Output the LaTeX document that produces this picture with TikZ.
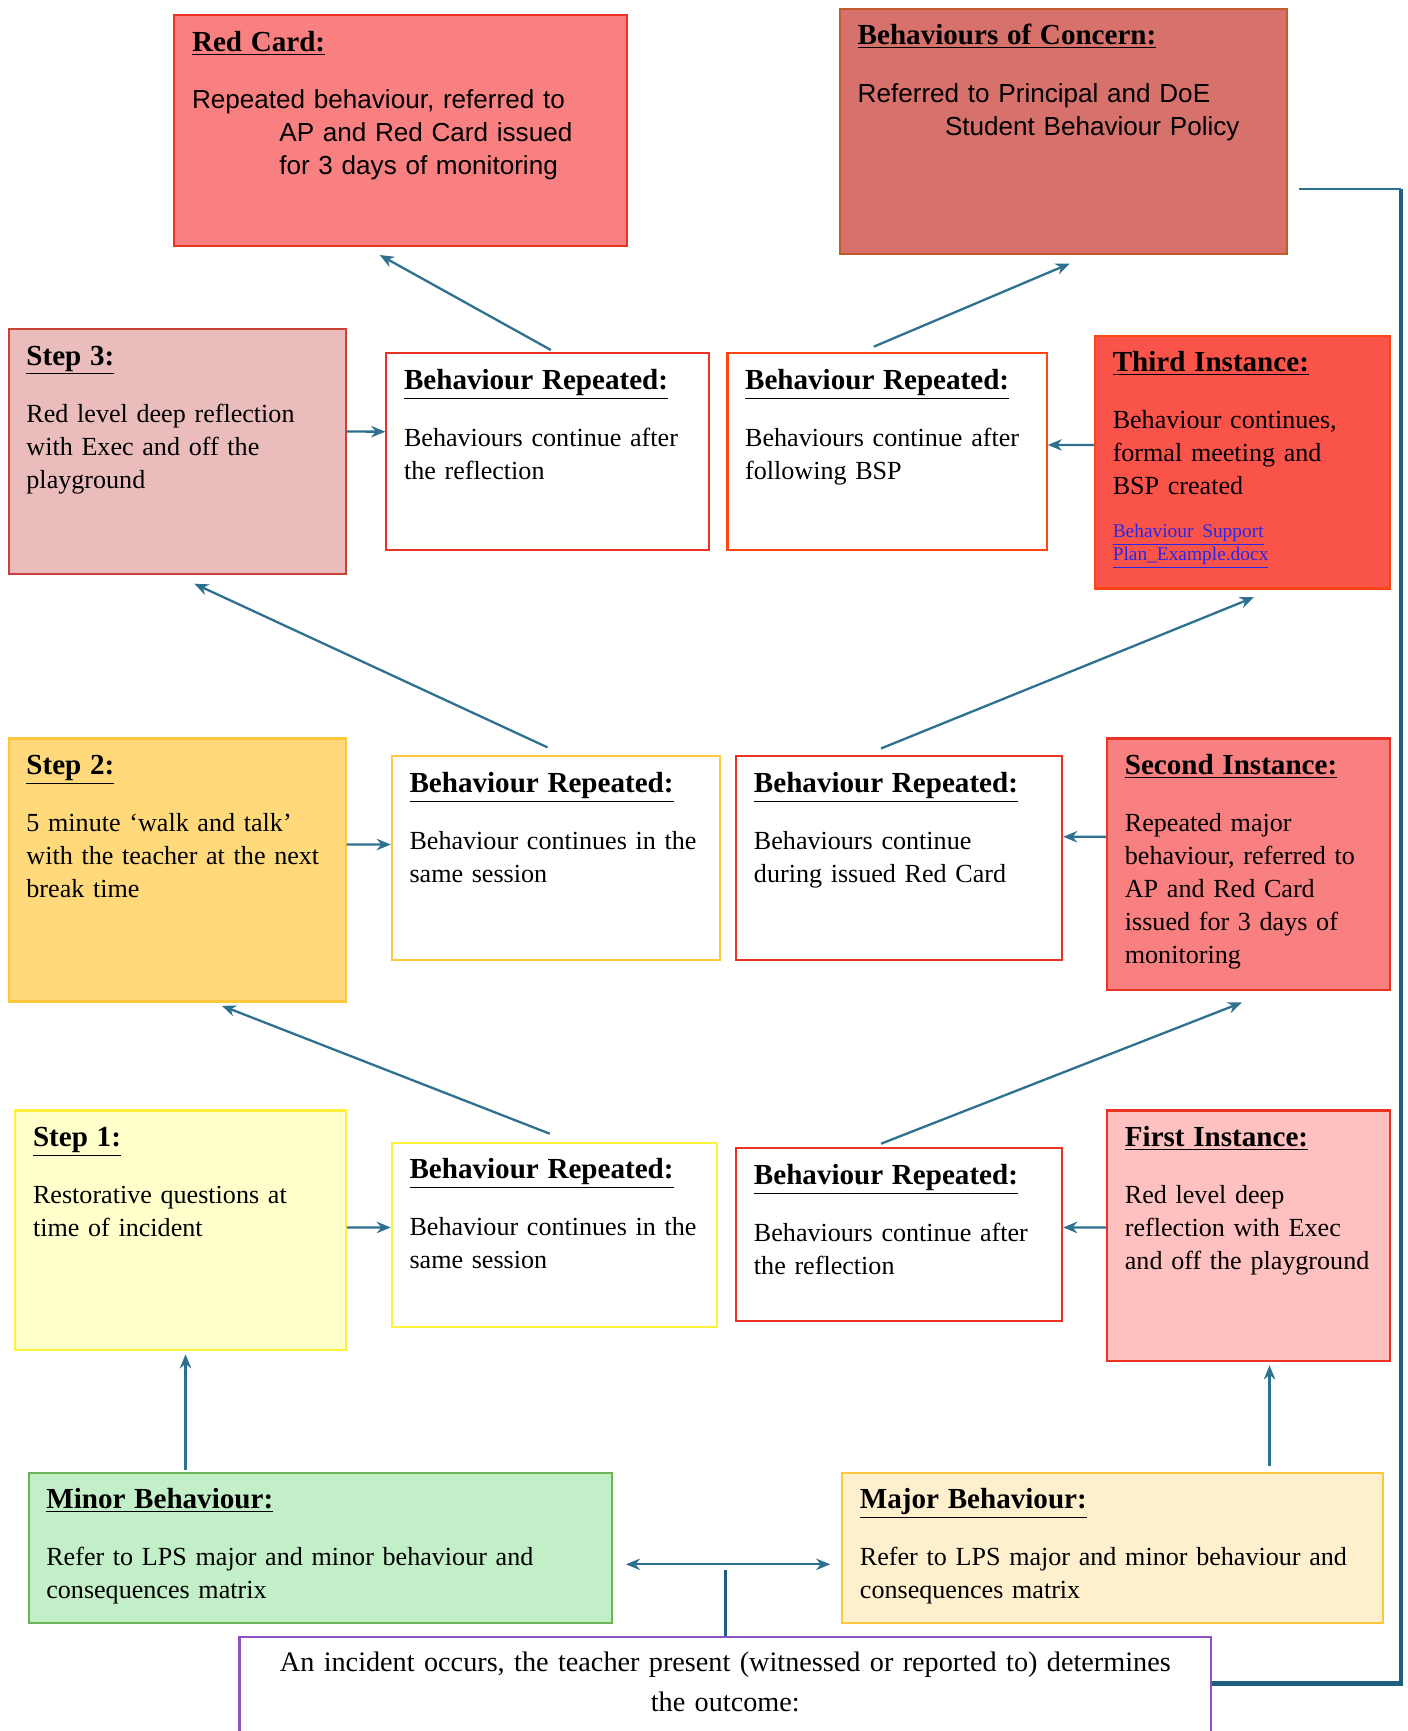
\documentclass[tikz,border=0pt]{standalone}
\usepackage{fontspec}
\setmainfont{Liberation Serif}
\setsansfont{Liberation Sans}
\usetikzlibrary{shapes.geometric, arrows, arrows.meta, calc}

\definecolor{redcardfill}{RGB}{248,128,128}
\definecolor{redline}{RGB}{234,51,35}
\definecolor{concernfill}{RGB}{215,113,108}
\definecolor{concernline}{RGB}{196,89,44}
\definecolor{stepthreefill}{RGB}{234,188,188}
\definecolor{stepthreeline}{RGB}{204,65,55}
\definecolor{thirdfill}{RGB}{250,83,74}
\definecolor{orangeline}{RGB}{255,69,20}
\definecolor{steptwofill}{RGB}{255,217,122}
\definecolor{ambline}{RGB}{255,200,60}
\definecolor{steponefill}{RGB}{255,255,204}
\definecolor{yellowline}{RGB}{255,242,60}
\definecolor{firstfill}{RGB}{255,192,192}
\definecolor{minorfill}{RGB}{194,239,200}
\definecolor{greenline}{RGB}{106,180,90}
\definecolor{majorfill}{RGB}{255,240,205}
\definecolor{purpleline}{RGB}{142,82,196}
\definecolor{flowblue}{RGB}{46,112,143}
\definecolor{flowdark}{RGB}{30,95,128}
\definecolor{linkblue}{RGB}{40,40,230}

\newcommand{\cardtitle}[1]{\rightskip=0pt plus 1fil minus 1cm\relax{\fontsize{16.5}{18.7}\selectfont\bfseries\underline{#1}}\\[13.7pt]}
\newcommand{\doclink}[1]{{\fontsize{11}{13}\selectfont\color{linkblue}\underline{#1}}}

\tikzstyle{card} = [rectangle, anchor=north west, draw, line width=1.2pt, align=left,
inner xsep=0.352cm, inner ysep=0pt, text height=20.5pt,
font=\fontsize{14.8}{18.7}\selectfont]
\tikzstyle{arrow} = [draw=flowblue, line width=1.3pt, -{Stealth[length=8pt, width=6.5pt]}]
\tikzstyle{feedback} = [draw=flowdark, line width=2.6pt]

\begin{document}
\begin{tikzpicture}[x=0.022cm, y=-0.022cm]
\useasboundingbox (0,0) rectangle (1275,1568);

% top row
\node (redcard) [card, fill=redcardfill, draw=redline, text width=8.32cm, text depth=3.88cm] at (157,13) {\cardtitle{Red Card:}\sffamily Repeated behaviour, referred to\\\hspace*{1.74cm}AP and Red Card issued\\\hspace*{1.74cm}for 3 days of monitoring};
\node (concern) [card, fill=concernfill, draw=concernline, text width=8.21cm, text depth=4.16cm] at (760,7) {\cardtitle{Behaviours of Concern:}\sffamily Referred to Principal and DoE\\\hspace*{1.74cm}Student Behaviour Policy};

% step 3 row
\node (step3) [card, fill=stepthreefill, draw=stepthreeline, text width=6.01cm, text depth=4.16cm] at (7,297) {\cardtitle{Step 3:}Red level deep reflection\\with Exec and off the\\playground};
\node (repA3) [card, fill=white, draw=redline, text width=5.72cm, text depth=3.20cm] at (349,319) {\cardtitle{Behaviour Repeated:}Behaviours continue after\\the reflection};
\node (repB3) [card, fill=white, draw=orangeline, text width=5.66cm, text depth=3.20cm] at (658,319) {\cardtitle{Behaviour Repeated:}Behaviours continue after\\following BSP};
\node (third) [card, fill=thirdfill, draw=orangeline, text width=5.17cm, text depth=4.32cm] at (991,303) {\cardtitle{Third Instance:}Behaviour continues,\\formal meeting and\\BSP created\\[5.6pt]\doclink{Behaviour Support}\\[-5.7pt]\doclink{Plan\_Example.docx}};

% step 2 row
\node (step2) [card, fill=steptwofill, draw=ambline, text width=6.01cm, text depth=4.52cm] at (7,668) {\cardtitle{Step 2:}5 minute ‘walk and talk’\\with the teacher at the next\\break time};
\node (repA2) [card, fill=white, draw=ambline, text width=5.83cm, text depth=3.35cm] at (354,684) {\cardtitle{Behaviour Repeated:}Behaviour continues in the\\same session};
\node (repB2) [card, fill=white, draw=redline, text width=5.79cm, text depth=3.35cm] at (666,684) {\cardtitle{Behaviour Repeated:}Behaviours continue\\during issued Red Card};
\node (second) [card, fill=redcardfill, draw=redline, text width=4.93cm, text depth=4.30cm] at (1002,668) {\cardtitle{Second Instance:}Repeated major\\behaviour, referred to\\AP and Red Card\\issued for 3 days of\\monitoring};

% step 1 row
\node (step1) [card, fill=steponefill, draw=yellowline, text width=5.88cm, text depth=4.05cm] at (13,1005) {\cardtitle{Step 1:}Restorative questions at\\time of incident};
\node (repA1) [card, fill=white, draw=yellowline, text width=5.77cm, text depth=2.95cm] at (354,1034) {\cardtitle{Behaviour Repeated:}Behaviour continues in the\\same session};
\node (repB1) [card, fill=white, draw=redline, text width=5.79cm, text depth=2.73cm] at (666,1039) {\cardtitle{Behaviour Repeated:}Behaviours continue after\\the reflection};
\node (first) [card, fill=firstfill, draw=redline, text width=4.93cm, text depth=4.27cm] at (1002,1005) {\cardtitle{First Instance:}Red level deep\\reflection with Exec\\and off the playground};

% outcome row
\node (minor) [card, fill=minorfill, draw=greenline, text width=10.92cm, text depth=2.27cm] at (25,1333) {\cardtitle{Minor Behaviour:}Refer to LPS major and minor behaviour and\\consequences matrix};
\node (major) [card, fill=majorfill, draw=ambline, text width=10.08cm, text depth=2.27cm] at (762,1333) {\cardtitle{Major Behaviour:}Refer to LPS major and minor behaviour and\\consequences matrix};
\node (incident) [card, fill=white, draw=purpleline, align=center, text width=18.66cm, text height=19.5pt, text depth=1.74cm, font=\fontsize{16}{22.4}\selectfont] at (216,1482) {An incident occurs, the teacher present (witnessed or reported to) determines\\the outcome:};

\coordinate (split) at (655,1417);
\coordinate (turn) at ($(concern.east)+(102,52)$);

\draw [arrow] ($(repA3.north)+(3,-2)$) -- ($(redcard.south)+(-19,7)$);
\draw [arrow] ($(repB3.north)+(-12,-5)$) -- ($(concern.south)+(5.5,8)$);
\draw [arrow] ($(step3.east)+(0,-18)$) -- ($(repA3.west)+(0,-18)$);
\draw [arrow] ($(third.west)+(0,-15.5)$) -- ($(repB3.east)+(0,-6)$);

\draw [arrow] ($(repA2.north)+(-7.5,-7)$) -- ($(step3.south)+(15.5,8)$);
\draw [arrow] ($(repB2.north)+(-16.5,-6)$) -- ($(third.south)+(10.5,7)$);
\draw [arrow] ($(step2.east)+(0,-23)$) -- ($(repA2.west)+(0,-12.5)$);
\draw [arrow] ($(second.west)+(0,-25)$) -- ($(repB2.east)+(0,-19.5)$);

\draw [arrow] ($(repA1.north)+(-4,-7)$) -- ($(step2.south)+(40.5,3)$);
\draw [arrow] ($(repB1.north)+(-16.5,-3)$) -- ($(second.south)+(-6,10)$);
\draw [arrow] ($(step1.east)+(0,-2.5)$) -- ($(repA1.west)+(0,-6.5)$);
\draw [arrow] ($(first.west)+(0,-7.5)$) -- ($(repB1.east)+(0,-6.5)$);

\draw [arrow] ($(step1.south)+(4.5,108)$) -- ($(step1.south)+(4.5,3)$);
\draw [arrow] ($(first.south)+(19,94)$) -- ($(first.south)+(19,3)$);

\draw [arrow, shorten >=0.26cm] (split) -- (minor.east |- split);
\draw [arrow, shorten >=0.22cm] (split) -- (major.west |- split);
\draw [draw=flowdark, line width=2pt, shorten >=0.11cm] (incident.north) -- (incident.north |- split);

\draw [feedback] ($(incident.north east)+(0,43)$) -| (turn);
\draw [draw=flowblue, line width=1pt] (turn) -- ($(concern.east)+(10,52)$);

\end{tikzpicture}
\end{document}
